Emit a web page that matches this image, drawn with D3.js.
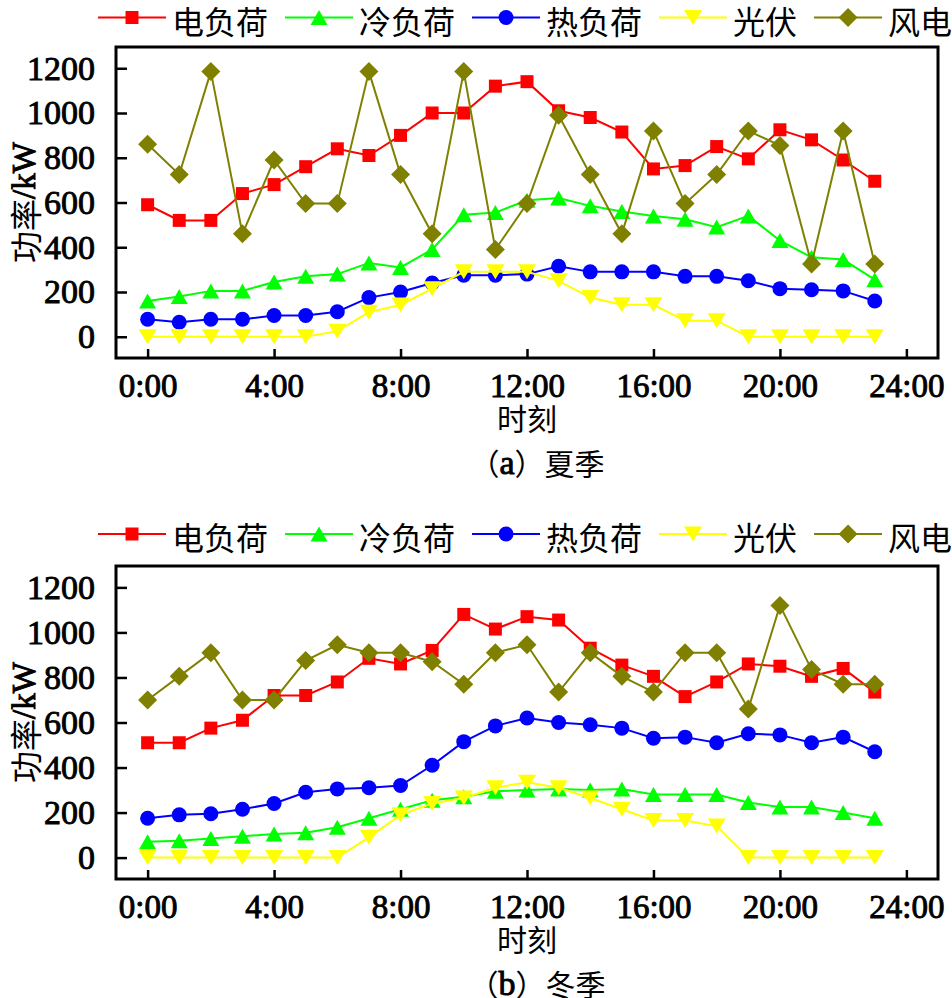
<!DOCTYPE html>
<html><head><meta charset="utf-8">
<script src="https://cdn.jsdelivr.net/npm/d3@7"></script>
<style>
body{margin:0;background:#fff;}
svg{display:block;}
</style>
</head><body>
<svg id="chart" width="952" height="998"></svg>
<script>
// ---- data ----
const hours = [0,1,2,3,4,5,6,7,8,9,10,11,12,13,14,15,16,17,18,19,20,21,22,23];
const seriesNames = ["电负荷","冷负荷","热负荷","光伏","风电"];
const seriesColors = ["#FF0000","#00FF00","#0000FF","#FFFF00","#808000"];
const seriesSymbols = ["square","triangle","circle","triangleDown","diamond"];

const summerElec = [590,520,520,640,680,760,840,810,900,1000,1000,1120,1140,1010,980,915,750,765,850,795,925,880,790,695];
const summerCool = [160,180,205,205,245,270,280,330,310,390,545,555,610,620,585,560,540,525,490,540,430,355,345,255];
const summerHeat = [78,65,78,78,95,95,112,175,200,240,275,275,280,315,290,290,290,270,270,250,215,210,205,160];
const summerPV   = [0,0,0,0,0,0,25,110,142,215,290,290,290,250,175,143,143,72,72,0,0,0,0,0];
const summerWind = [860,725,1185,460,790,595,595,1185,725,460,1185,390,595,990,725,460,920,595,725,920,855,325,920,325];

const winterElec = [510,510,575,610,720,720,780,885,860,920,1080,1015,1070,1055,930,855,805,715,780,860,850,805,840,735];
const winterCool = [70,75,85,95,105,110,135,175,215,255,270,295,300,305,300,305,280,280,280,245,225,225,200,175];
const winterHeat = [175,190,195,215,240,290,305,310,320,410,515,585,620,600,590,575,530,535,510,550,545,510,535,470];
const winterPV   = [0,0,0,0,0,0,0,90,190,240,265,310,335,310,265,215,165,165,140,0,0,0,0,0];
const winterWind = [700,805,910,700,700,875,945,910,910,870,770,910,945,735,910,805,735,910,910,660,1120,835,770,770];

const xTickValues = [0,4,8,12,16,20,24];
const xTickLabels = ["0:00","4:00","8:00","12:00","16:00","20:00","24:00"];
const yTickValues = [0,200,400,600,800,1000,1200];
const yTickLabels = ["0","200","400","600","800","1000","1200"];
const xTitle = "时刻";
const yTitleCJK = "功率";
const yTitleUnit = "/kW";
const captions = ["（a）夏季","（b）冬季"];

// ---- layout ----
const svg = d3.select("#chart");
const SERIF = "'Liberation Serif','Times New Roman',Times,serif";
const CJK = "'Noto Sans CJK SC','Noto Sans CJK JP',sans-serif";
const left = 116, right = 938;

function symbolPath(type){
  switch(type){
    case "square": return "M-6.5,-6.5H6.5V6.5H-6.5Z";
    case "triangle": return "M0,-7.5L8.5,7.5H-8.5Z";
    case "triangleDown": return "M0,7.5L9,-7.5H-9Z";
    case "diamond": return "M0,-9.5L9.5,0L0,9.5L-9.5,0Z";
    case "circle": return "M7.5,0A7.5,7.5 0 1,1 -7.5,0A7.5,7.5 0 1,1 7.5,0Z";
  }
}

function serifText(sel, size){
  sel.attr("font-family",SERIF).attr("font-size",size).attr("font-weight","normal")
    .attr("fill","#000").attr("stroke","#000").attr("stroke-width",0.9);
}

function drawLegend(yc){
  const g = svg.append("g");
  let x = 98;
  seriesNames.forEach((name,i)=>{
    g.append("line").attr("x1",x).attr("x2",x+68).attr("y1",yc).attr("y2",yc)
      .attr("stroke",seriesColors[i]).attr("stroke-width",2);
    g.append("path").attr("d",symbolPath(seriesSymbols[i]))
      .attr("transform",`translate(${x+34},${yc})`).attr("fill",seriesColors[i]);
    const t = g.append("text").attr("x",x+74).attr("y",yc+2).attr("dominant-baseline","central")
      .attr("font-family",CJK).attr("font-size",32).attr("fill","#000").text(name);
    const w = t.node().getComputedTextLength();
    x = x + 74 + w + 17;
  });
}

function drawChart(top, bottom, data, caption){
  const x = d3.scaleLinear().domain([-1,25]).range([left,right]);
  const y = d3.scaleLinear().domain([-95,1295]).range([bottom,top]);
  const g = svg.append("g");

  // series
  data.forEach((vals,i)=>{
    const pts = hours.map((h,j)=>[x(h),y(vals[j])]);
    g.append("path").attr("d",d3.line()(pts)).attr("fill","none")
      .attr("stroke",seriesColors[i]).attr("stroke-width",2);
    g.selectAll(null).data(pts).enter().append("path")
      .attr("d",symbolPath(seriesSymbols[i]))
      .attr("transform",d=>`translate(${d[0]},${d[1]})`)
      .attr("fill",seriesColors[i]);
  });

  // frame
  g.append("rect").attr("x",left).attr("y",top).attr("width",right-left).attr("height",bottom-top)
    .attr("fill","none").attr("stroke","#000").attr("stroke-width",3);

  // y axis
  const ya = g.append("g").attr("transform",`translate(${left},0)`)
    .call(d3.axisLeft(y).tickValues(yTickValues).tickFormat((d,i)=>yTickLabels[i])
      .tickSizeInner(-11).tickSizeOuter(0).tickPadding(21));
  ya.select(".domain").remove();
  ya.selectAll(".tick line").attr("stroke","#000").attr("stroke-width",2.5);
  serifText(ya.selectAll(".tick text"), 34);

  // x axis
  const xa = g.append("g").attr("transform",`translate(0,${bottom})`)
    .call(d3.axisBottom(x).tickValues(xTickValues).tickFormat((d,i)=>xTickLabels[i])
      .tickSizeInner(-9).tickSizeOuter(0).tickPadding(16));
  xa.select(".domain").remove();
  xa.selectAll(".tick line").attr("stroke","#000").attr("stroke-width",2.5);
  serifText(xa.selectAll(".tick text"), 33);

  // x title
  g.append("text").attr("x",(left+right)/2).attr("y",bottom+59).attr("text-anchor","middle")
    .attr("dominant-baseline","central").attr("font-family",CJK).attr("font-size",30).attr("fill","#000").text(xTitle);
  // caption
  const cap = g.append("text").attr("x",(left+right)/2+10).attr("y",bottom+104).attr("text-anchor","middle")
    .attr("dominant-baseline","central").attr("font-family",CJK).attr("font-size",30).attr("fill","#000");
  const m = caption.match(/^（(.)）(.*)$/);
  cap.append("tspan").text("（");
  const mid = cap.append("tspan").text(m[1]);
  serifText(mid, 34);
  cap.append("tspan").text("）"+m[2]);

  // y title
  const yt = g.append("text").attr("transform",`translate(24,${(top+bottom)/2}) rotate(-90)`)
    .attr("text-anchor","middle").attr("dominant-baseline","central").attr("fill","#000")
    .attr("font-size",32);
  yt.append("tspan").attr("font-family",CJK).text(yTitleCJK);
  serifText(yt.append("tspan").text(yTitleUnit), 33);
}

drawLegend(17.5);
drawChart(47, 358, [summerElec,summerCool,summerHeat,summerPV,summerWind], captions[0]);
drawLegend(534);
drawChart(566, 879, [winterElec,winterCool,winterHeat,winterPV,winterWind], captions[1]);
</script>
</body></html>
